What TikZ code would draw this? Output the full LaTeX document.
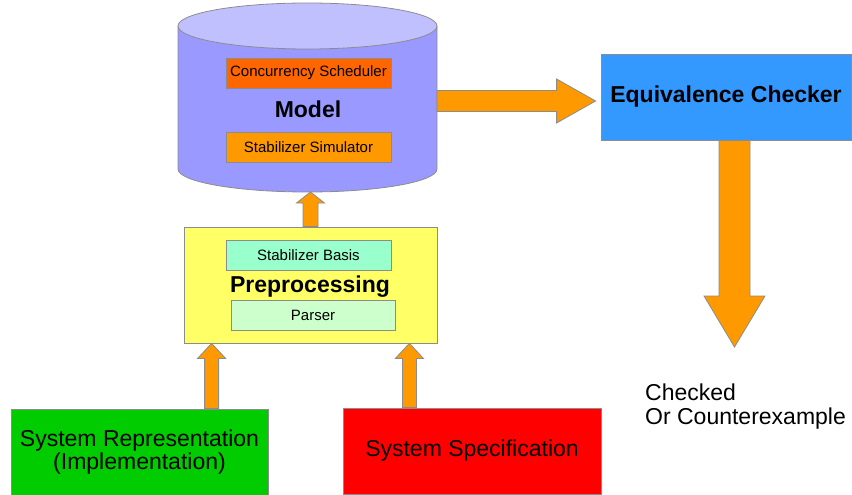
\documentclass[tikz,border=0pt]{standalone}
\usepackage{fontspec}
\setmainfont{Liberation Sans}
\usetikzlibrary{calc}

\definecolor{cylbody}{HTML}{9999FF}
\definecolor{cyltop}{HTML}{C0C0FF}
\definecolor{prepfill}{HTML}{FFFF66}
\definecolor{basisfill}{HTML}{99FFCC}
\definecolor{parserfill}{HTML}{CCFFCC}
\definecolor{schedfill}{HTML}{FF6600}
\definecolor{simfill}{HTML}{FF9900}
\definecolor{eqfill}{HTML}{3399FF}
\definecolor{implfill}{HTML}{00CC00}
\definecolor{specfill}{HTML}{FF0000}
\definecolor{arrowfill}{HTML}{FF9900}
\definecolor{edge}{HTML}{8C8C8C}

\tikzset{
  box/.style={draw=edge, line width=0.8pt, inner sep=0pt, anchor=center},
  smallbox/.style={box, minimum width=165pt, minimum height=30pt,
    font=\fontsize{15}{17}\selectfont},
  bigbox/.style={box, minimum width=257pt, minimum height=86pt, align=center,
    font=\fontsize{23}{23.5}\selectfont},
  title/.style={font=\fontsize{23}{26}\selectfont\bfseries, inner sep=0pt},
  blockarrow/.style={draw=edge, line width=0.8pt, fill=arrowfill, line join=miter},
}

\begin{document}
\begin{tikzpicture}[x=1pt, y=-1pt]
  \useasboundingbox (0,0) rectangle (852,495);

  % model store: cylinder body and lid
  \fill[cylbody] (178,26) -- (178,169)
    arc[start angle=180, end angle=360, x radius=129.5pt, y radius=23pt] -- (437,26) -- cycle;
  \draw[edge, line width=0.8pt] (178,26) -- (178,169)
    arc[start angle=180, end angle=360, x radius=129.5pt, y radius=23pt] -- (437,26);
  \draw[edge, line width=0.8pt, fill=cyltop] (307.5,26) ellipse[x radius=129.5pt, y radius=23pt];
  \coordinate (cylbottom) at (307.5,192);
  \coordinate (cylright) at (437,101);

  \node[smallbox, fill=schedfill] (sched) at (308.5,73) {Concurrency Scheduler};
  \node[title] (model) at (308,109) {Model};
  \node[smallbox, fill=simfill] (sim) at (308.5,147) {Stabilizer Simulator};

  % preprocessing stage
  \node[box, fill=prepfill, minimum width=253pt, minimum height=116pt] (prep) at (310.5,285) {};
  \node[smallbox, fill=basisfill] (basis) at (308.5,255) {Stabilizer Basis};
  \node[title] (preptitle) at (310,287) {Preprocessing};
  \node[smallbox, fill=parserfill, minimum width=164pt] (parser) at (313,315) {Parser};

  % inputs
  \node[bigbox, fill=implfill] (impl) at (139.5,452) {System Representation\\(Implementation)};
  \node[bigbox, fill=specfill, minimum width=258pt] (spec) at (472,451) {System Specification};

  % checker and result
  \node[box, fill=eqfill, minimum width=250pt, minimum height=86pt, title] (eq) at (726,97) {Equivalence Checker};
  \coordinate (result) at (734.5,347);
  \node[anchor=north west, align=left, inner sep=0pt,
        font=\fontsize{23}{23.5}\selectfont] (verdict) at (645,384) {Checked\\Or Counterexample};

  % preprocessing -> model
  \draw[blockarrow] let \p1=(prep.north), \p2=(cylbottom) in
    (\x1-7.5pt,\y1) -- (\x1-7.5pt,\y2-11pt) -- (\x1-14pt,\y2-11pt) -- (\x1,\y2)
    -- (\x1+14pt,\y2-11pt) -- (\x1+7.5pt,\y2-11pt) -- (\x1+7.5pt,\y1) -- cycle;

  % implementation -> preprocessing
  \draw[blockarrow] let \p1=(impl.north), \p2=([xshift=28pt]prep.south west) in
    (\x2-7pt,\y1) -- (\x2-7pt,\y2-15pt) -- (\x2-14pt,\y2-15pt) -- (\x2,\y2)
    -- (\x2+14pt,\y2-15pt) -- (\x2+7pt,\y2-15pt) -- (\x2+7pt,\y1) -- cycle;

  % specification -> preprocessing
  \draw[blockarrow] let \p1=(spec.north), \p2=([xshift=-28pt]prep.south east) in
    (\x2-7pt,\y1) -- (\x2-7pt,\y2-15pt) -- (\x2-14pt,\y2-15pt) -- (\x2,\y2)
    -- (\x2+14pt,\y2-15pt) -- (\x2+7pt,\y2-15pt) -- (\x2+7pt,\y1) -- cycle;

  % model -> equivalence checker
  \draw[blockarrow] let \p1=(cylright), \p2=([xshift=-5pt]eq.west) in
    (\x1,\y1+10.5pt) -- (\x2-39pt,\y1+10.5pt) -- (\x2-39pt,\y1+22pt) -- (\x2,\y1)
    -- (\x2-39pt,\y1-22pt) -- (\x2-39pt,\y1-10.5pt) -- (\x1,\y1-10.5pt) -- cycle;

  % equivalence checker -> result
  \draw[blockarrow] let \p1=(eq.south), \p2=(result) in
    (\x2-15.5pt,\y1) -- (\x2-15.5pt,\y2+51pt) -- (\x2-30.5pt,\y2+51pt) -- (\x2,\y2)
    -- (\x2+30.5pt,\y2+51pt) -- (\x2+15.5pt,\y2+51pt) -- (\x2+15.5pt,\y1) -- cycle;
\end{tikzpicture}
\end{document}
